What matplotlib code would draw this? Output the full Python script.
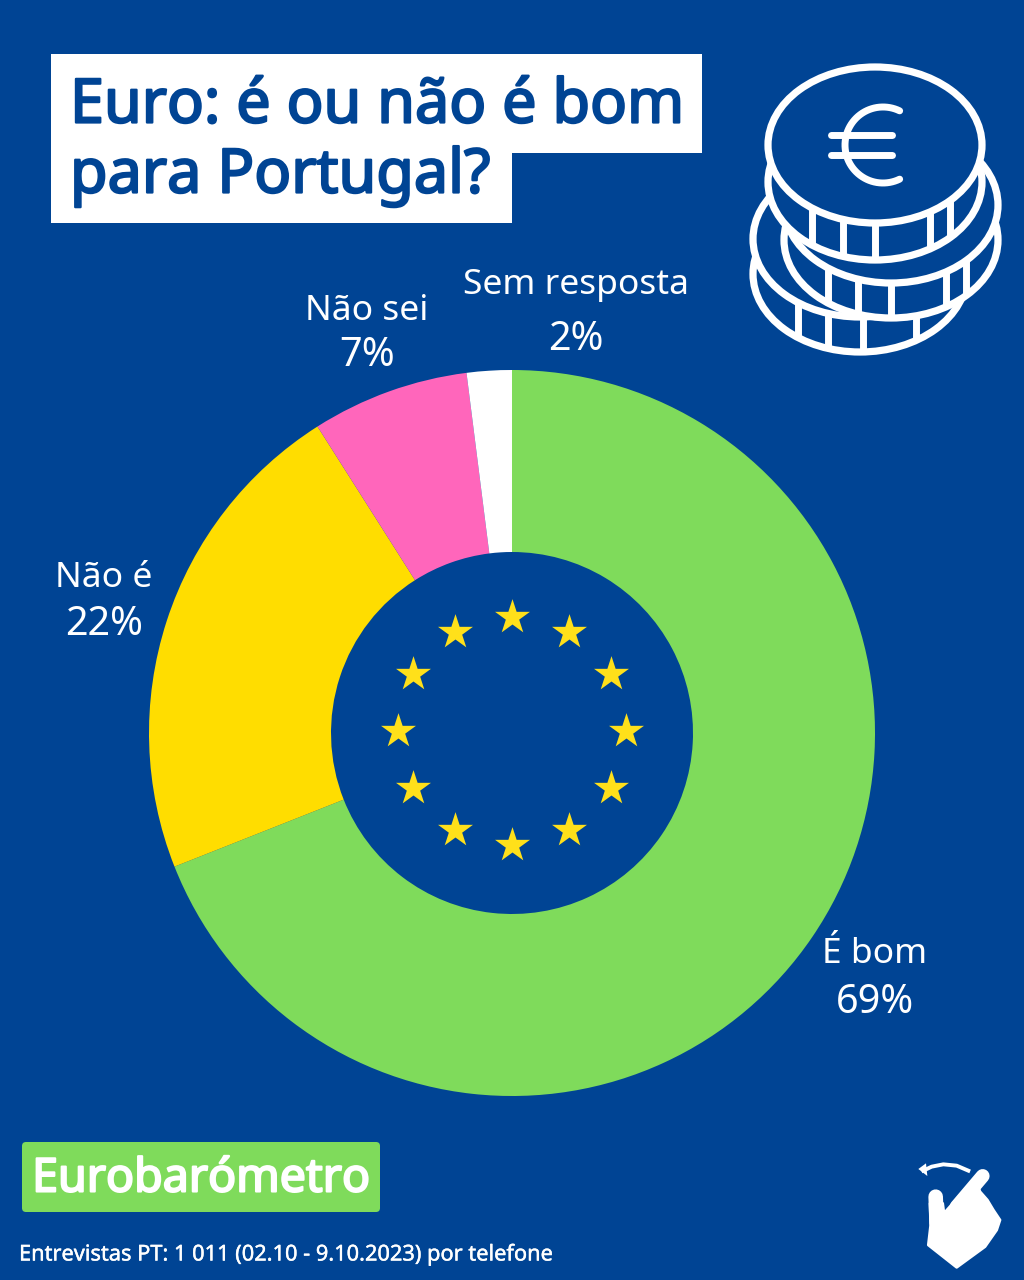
import matplotlib
matplotlib.use("Agg")
import matplotlib.pyplot as plt
import matplotlib.patheffects as pe
import numpy as np
from matplotlib.patches import Rectangle, Ellipse, Polygon, FancyBboxPatch

plt.rcParams["font.family"] = ["Noto Sans", "DejaVu Sans"]

categories = ["É bom", "Não é", "Não sei", "Sem resposta"]
values = [69, 22, 7, 2]
colors = ["#7FDB5B", "#FFDD00", "#FF66BB", "#FFFFFF"]
title_lines = ["Euro: é ou não é bom", "para Portugal?"]
source = "Eurobarómetro"
footer = "Entrevistas PT: 1 011 (02.10 - 9.10.2023) por telefone"

bg = "#004494"
white = "#FFFFFF"

fig = plt.figure(figsize=(10.24, 12.8), dpi=100, facecolor=bg)
ax = fig.add_axes([0, 0, 1, 1])

# y is flipped so everything is in image pixels, that's why counterclock is True
ax.pie(values, colors=colors, startangle=270, counterclock=True, center=(512, 733),
       radius=363, wedgeprops={"width": 182, "linewidth": 0})
ax.set_xlim(0, 1024)
ax.set_ylim(1280, 0)
ax.axis("off")

# eu stars
star_angles = np.deg2rad(np.arange(0, 360, 30))
ax.scatter(512 + 114 * np.cos(star_angles), 731 + 114 * np.sin(star_angles),
           marker="*", s=700, color="#FFE01A", linewidths=0, zorder=5)

# slice labels
label_pos = [(875, 951, 1000), (104, 575, 622), (367, 308, 353), (576, 282, 337)]
for cat, val, (x, y1, y2) in zip(categories, values, label_pos):
    ax.text(x, y1 + 3, cat, color=white, fontsize=25.5, ha="center", va="center")
    ax.text(x, y2 + 3, f"{val}%", color=white, fontsize=28.5, ha="center", va="center")


def heavy(width, color):
    # regular weight thickened, the bold face does not come through
    return [pe.withStroke(linewidth=width, foreground=color)]


# title boxes
ax.add_patch(Rectangle((51, 54), 651, 99, color=white, lw=0))
ax.add_patch(Rectangle((51, 153), 461, 70, color=white, lw=0))
ax.text(70, 107, title_lines[0], color=bg, fontsize=44, va="center", path_effects=heavy(1.6, bg))
ax.text(70, 177, title_lines[1], color=bg, fontsize=44, va="center", path_effects=heavy(1.6, bg))

# source box and footer
ax.add_patch(FancyBboxPatch((25, 1145), 352, 64, boxstyle="round,pad=3,rounding_size=4",
                            facecolor="#7FDB5B", lw=0))
ax.text(201, 1179, source, color=white, fontsize=33.5, ha="center", va="center",
        path_effects=heavy(1.5, white))
ax.text(19, 1255, footer, color=white, fontsize=15.7, va="center", path_effects=heavy(0.3, white))


def coin(cx, cy, depth, ticks, z):
    rx, ry = 107, 78
    ax.add_patch(Ellipse((cx, cy + depth), 2 * rx, 2 * ry, facecolor=bg, edgecolor=white, lw=5.2, zorder=z))
    ax.add_patch(Ellipse((cx, cy), 2 * rx, 2 * ry, facecolor=bg, edgecolor=white, lw=5.2, zorder=z))
    for dx in ticks:
        y0 = cy + ry * np.sqrt(1 - (dx / rx) ** 2)
        ax.plot([cx + dx, cx + dx], [y0, y0 + depth], color=white, lw=5, zorder=z, solid_capstyle="butt")


coin(860, 239, 35, [-62, -32, 3, 56], 6)
coin(891, 205, 35, [-63, -33, 0, 55, 75], 7)
coin(875, 145, 37, [-63, -32, 0, 55, 75], 8)

# euro sign
t = np.deg2rad(np.linspace(64, 296, 60))
ax.plot(883 + 38 * np.cos(t), 145 + 38 * np.sin(t), color=white, lw=5, zorder=9, solid_capstyle="round")
ax.plot([831, 892], [135, 135], color=white, lw=5, zorder=9, solid_capstyle="round")
ax.plot([831, 892], [155, 155], color=white, lw=5, zorder=9, solid_capstyle="round")

# swipe hand
hand = np.array([(132, 190), (225, 85), (240, 125), (262, 150), (280, 180), (300, 210), (290, 240),
                 (255, 290), (170, 352), (85, 285), (92, 225), (90, 160), (128, 160)]) / 3 + [900, 1150]
ax.add_patch(Polygon(hand, closed=True, facecolor=white, edgecolor=white, lw=2, joinstyle="round"))
ax.plot(np.array([170, 248]) / 3 + 900, np.array([170, 78]) / 3 + 1150, color=white, lw=10, solid_capstyle="round")
ax.plot(np.array([107, 110]) / 3 + 900, np.array([140, 220]) / 3 + 1150, color=white, lw=10.5, solid_capstyle="round")
arrow_x = np.array([205, 170, 130, 95, 70]) / 3 + 900
arrow_y = np.array([62, 47, 43, 50, 62]) / 3 + 1150
ax.plot(arrow_x, arrow_y, color=white, lw=2.8)
ax.add_patch(Polygon(np.array([(55, 57), (78, 40), (82, 78)]) / 3 + [900, 1150], closed=True,
                     facecolor=white, lw=0))

fig.savefig("out.png", dpi=100, facecolor=bg)
